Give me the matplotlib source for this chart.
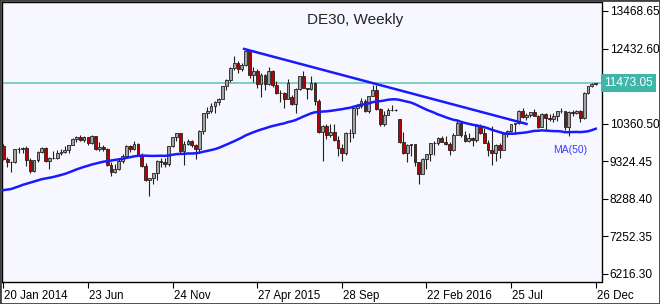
import matplotlib
matplotlib.use('Agg')
import matplotlib.pyplot as plt
import matplotlib.transforms as mtransforms
from matplotlib.patches import Rectangle
import numpy as np
import pandas as pd

plt.rcParams['font.family'] = ['Liberation Sans', 'DejaVu Sans']

# Weekly OHLC bars (20 Jan 2014 .. 26 Dec 2016)
opens = [9740, 9392, 9306, 9289, 9662, 9656, 9692, 9350, 9056, 9342,
         9588, 9695, 9315, 9409, 9401, 9556, 9581, 9629, 9768, 9943,
         9987, 9912, 9987, 9815, 10009, 9666, 9720, 9644, 9210, 9010,
         9092, 9339, 9470, 9747, 9651, 9799, 9490, 9195, 8788, 8850,
         8988, 9326, 9291, 9252, 9732, 9980, 10087, 9594, 9787, 9865,
         9765, 9648, 10167, 10649, 10694, 10846, 10963, 11051, 11402, 11551,
         11901, 12039, 11868, 11967, 12375, 11689, 11811, 11454, 11709, 11447,
         11815, 11413, 11197, 11190, 11041, 11083, 10890, 11316, 11673, 11347,
         11308, 11490, 10985, 10124, 10298, 10038, 10123, 9916, 9688, 9553,
         10096, 10104, 10795, 10850, 10988, 10708, 11119, 11293, 10752, 10340,
         10608, 10727, 10743, 10480, 9849, 9545, 9764, 9798, 9286, 8967,
         9388, 9513, 9824, 9831, 9950, 9851, 9794, 9622, 10051, 10373,
         10039, 9870, 9952, 9916, 10286, 10103, 9834, 9631, 9557, 9776,
         9630, 10067, 10147, 10337, 10367, 10713, 10544, 10588, 10684, 10573,
         10276, 10627, 10511, 10490, 10580, 10711, 10696, 10259, 10668, 10664,
         10699, 10513, 11203, 11404, 11450]
highs = [9795, 9450, 9330, 9670, 9720, 9720, 9730, 9400, 9360, 9600,
         9720, 9720, 9430, 9600, 9620, 9650, 9740, 9780, 9950, 10030,
         10050, 10010, 10000, 10050, 10030, 9840, 9780, 9680, 9310, 9250,
         9390, 9510, 9780, 9780, 9880, 9820, 9550, 9270, 8830, 9000,
         9350, 9400, 9400, 9750, 10000, 10090, 10090, 9880, 9930, 9900,
         9800, 10180, 10660, 10820, 10920, 10980, 11070, 11410, 11600, 11920,
         12220, 12080, 12030, 12390, 12390, 11930, 11870, 11760, 11740, 11920,
         11830, 11530, 11280, 11220, 11600, 11140, 11330, 11680, 11800, 11350,
         11670, 11500, 11030, 10320, 10350, 10350, 10340, 10010, 9800, 10120,
         10210, 10810, 10900, 11060, 11030, 11130, 11420, 11430, 10800, 10700,
         10800, 10870, 10760, 10490, 10130, 9800, 9800, 9800, 9300, 9420,
         9530, 9830, 9870, 10000, 10030, 10010, 9860, 10090, 10480, 10390,
         10150, 10100, 10000, 10300, 10340, 10230, 9900, 10300, 9800, 9810,
         10090, 10180, 10350, 10380, 10730, 10800, 10640, 10690, 10770, 10600,
         10650, 10660, 10630, 10650, 10720, 10800, 10700, 10720, 10740, 10740,
         10730, 11220, 11410, 11470, 11490]
lows = [9360, 9150, 9010, 9280, 9540, 9540, 9200, 8990, 9020, 9300,
        9550, 9300, 9110, 9390, 9390, 9480, 9540, 9550, 9760, 9860,
        9890, 9840, 9780, 9790, 9620, 9600, 9590, 9180, 8900, 8990,
        9080, 9280, 9420, 9580, 9620, 9460, 9150, 8780, 8355, 8700,
        8800, 9160, 9150, 9180, 9720, 9880, 9560, 9220, 9780, 9700,
        9380, 9560, 10060, 10520, 10640, 10650, 10870, 11040, 11280, 11520,
        11850, 11760, 11820, 11960, 11630, 11510, 11350, 11100, 11300, 11430,
        11380, 11180, 10960, 10800, 11030, 10880, 10660, 11300, 11330, 11050,
        11300, 10880, 10110, 9330, 9920, 9990, 9880, 9460, 9330, 9500,
        9850, 9950, 10600, 10780, 10690, 10640, 11110, 10730, 10300, 10280,
        10600, 10700, 10720, 9810, 9520, 9310, 9460, 9190, 8700, 8960,
        9110, 9330, 9500, 9780, 9840, 9780, 9480, 9610, 10050, 10000,
        9850, 9840, 9750, 9840, 10070, 9830, 9460, 9220, 9330, 9400,
        9620, 9980, 10120, 10080, 10340, 10520, 10470, 10530, 10560, 10240,
        10260, 10180, 10420, 10390, 10440, 10640, 10180, 10010, 10570, 10610,
        10400, 10480, 11180, 11370, 11430]
closes = [9392, 9306, 9289, 9662, 9656, 9692, 9350, 9056, 9342, 9588,
          9695, 9315, 9409, 9401, 9556, 9581, 9629, 9768, 9943, 9987,
          9912, 9987, 9815, 10009, 9666, 9720, 9644, 9210, 9010, 9092,
          9339, 9470, 9747, 9651, 9799, 9490, 9195, 8788, 8850, 8988,
          9326, 9291, 9252, 9732, 9980, 10087, 9594, 9787, 9865, 9765,
          9648, 10167, 10649, 10694, 10846, 10963, 11051, 11402, 11551, 11901,
          12039, 11868, 11967, 12375, 11689, 11811, 11454, 11709, 11447, 11815,
          11413, 11197, 11190, 11041, 11492, 10890, 11316, 11673, 11347, 11308,
          11490, 10985, 10124, 10298, 10038, 10123, 9916, 9688, 9553, 10096,
          10104, 10795, 10850, 10988, 10708, 11119, 11293, 10752, 10340, 10608,
          10727, 10743, 10735, 9849, 9545, 9764, 9798, 9286, 8967, 9388,
          9513, 9824, 9831, 9950, 9851, 9794, 9622, 10051, 10373, 10039,
          9870, 9952, 9916, 10286, 10103, 9834, 9631, 9557, 9776, 9630,
          10067, 10147, 10337, 10367, 10713, 10544, 10588, 10684, 10573, 10276,
          10627, 10511, 10490, 10580, 10711, 10696, 10259, 10668, 10664, 10699,
          10513, 11203, 11404, 11450, 11473.05]

# Weekly closes before the first bar (needed for the 50-week moving average)
prior_closes = [7870, 7800, 7660, 7740, 7460, 7810, 7960, 8120,
                8400, 8350, 8350, 8250, 8130, 8130, 7790, 7960, 7800, 8060,
                8210, 8330, 8280, 8400, 8380, 8400, 8420, 8240, 8270, 8500,
                8620, 8670, 8590, 8620, 8720, 8870, 9000, 9010, 9080, 9170,
                9220, 9400, 9170, 9000, 9210, 9400, 9550, 9470, 9740]

# Trend line drawn from the April 2015 high (bar index, price)
trend_bars = [62.6, 136.0]
trend_prices = [12420, 10350]

last_price = 11473.05
tick_bars = [0, 22, 44, 66, 88, 110, 132, 154]
tick_labels = ['20 Jan 2014', '23 Jun', '24 Nov', '27 Apr 2015', '28 Sep',
               '22 Feb 2016', '25 Jul', '26 Dec']
price_ticks = [6216.30, 7252.35, 8288.40, 9324.45, 10360.50, 12432.60, 13468.65]

W, H = 660, 304
fig = plt.figure(figsize=(W / 100, H / 100), dpi=100)
fig.patch.set_facecolor('white')
ax = fig.add_axes([2 / W, 22 / H, 599.5 / W, 280 / H])
ax.set_facecolor('#f7f8ff')

o = np.array(opens, float)
h = np.array(highs, float)
l = np.array(lows, float)
c = np.array(closes, float)
x = np.arange(len(c))

# 50-week moving average (bars before the first one come from prior_closes)
allc = pd.Series(list(prior_closes) + list(closes), dtype=float)
ma_all = allc.rolling(50, min_periods=48).mean().to_numpy()
n0 = len(prior_closes)
ma_x = np.arange(-1, len(c))
ma = ma_all[n0 - 1:]

# horizontal last price line
ax.axhline(last_price, color='#6cc5bd', lw=1.2, zorder=1)

# wicks
ax.vlines(x, l, h, color='#202020', lw=0.8, zorder=2)
up = c >= o
bottoms = np.minimum(o, c)
heights = np.maximum(np.abs(c - o), 8)
colors = np.where(up, '#a4a4a4', '#b80000')
ax.bar(x, heights, bottom=bottoms, width=0.72, color=colors,
       edgecolor='#202020', linewidth=0.6, zorder=3)

# MA line and trend line
ax.plot(ma_x, ma, color='#1a1aff', lw=1.8, zorder=4)
ax.plot(trend_bars, trend_prices, color='#1a1aff', lw=1.8, zorder=4)

ax.set_xlim(-0.34, 155.5)
ax.set_ylim(5984, 13717)

ax.yaxis.tick_right()
ax.set_yticks(price_ticks)
ax.set_yticklabels(['%.2f' % v for v in price_ticks])
ax.tick_params(axis='y', direction='out', length=4, width=0.8, pad=2,
               labelsize=8.6, colors='black')
ax.set_xticks(tick_bars)
ax.set_xticklabels(tick_labels, ha='left')
ax.tick_params(axis='x', direction='out', length=4, width=0.8, pad=2,
               labelsize=8.3, colors='black')
offset = mtransforms.ScaledTranslation(1 / 100, 0, fig.dpi_scale_trans)
for lab in ax.get_xticklabels():
    lab.set_transform(lab.get_transform() + offset)

for s in ax.spines.values():
    s.set_color('black')
    s.set_linewidth(1.0)

# last price label box
trans = mtransforms.blended_transform_factory(ax.transAxes, ax.transData)
ax.text(1.0045, last_price, '%.2f' % last_price, transform=trans, ha='left',
        va='center', fontsize=8.6, color='white', clip_on=False,
        bbox=dict(boxstyle='square,pad=0.25', facecolor='#3fb6a8', edgecolor='none'))

# title and MA label
fig.text(355 / W, 1 - 20 / H, 'DE30, Weekly', ha='center', va='center',
         fontsize=11, color='#222222')
fig.text(570 / W, 1 - 150 / H, 'MA(50)', ha='center', va='center',
         fontsize=7.5, color='#3a3aff')

# outer frame
fig.patches.append(Rectangle((0, 0), 1, 1, transform=fig.transFigure, fill=False,
                             edgecolor='#404040', lw=2.0))

fig.savefig('out.png', dpi=100)
